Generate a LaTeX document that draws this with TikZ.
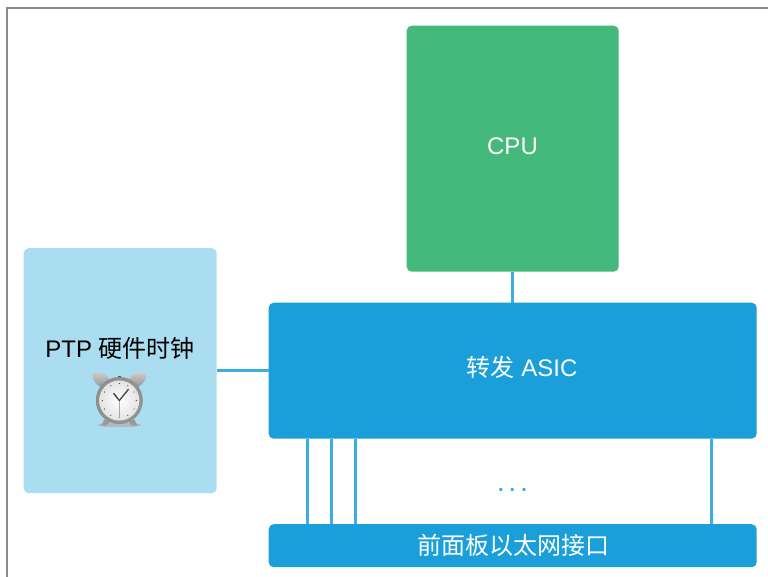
\documentclass[tikz,border=0pt]{standalone}
\usepackage{fontspec}
\setmainfont{Liberation Sans}
\newfontfamily\cjk{Noto Sans CJK SC}
\definecolor{cpugreen}{HTML}{45B97C}
\definecolor{asicblue}{HTML}{1A9FDB}
\definecolor{linkblue}{HTML}{3FADE0}
\definecolor{clockbg}{HTML}{ABDDF0}
\definecolor{framegray}{HTML}{8A8A8A}
\tikzset{
  block/.style={rounded corners=5pt,inner sep=0pt,anchor=north west,align=center},
  link/.style={draw=linkblue,line width=3pt},
  whitetext/.style={text=white},
}
\begin{document}
\begin{tikzpicture}[x=1pt,y=-1pt]
\useasboundingbox (0,0) rectangle (768,577);
\fill[white] (0,0) rectangle (768,577);
\draw[framegray,line width=2pt] (6.5,577) -- (6.5,8.5) -- (768,8.5);
% blocks
\node[block,fill=cpugreen,minimum width=212pt,minimum height=246pt,whitetext] (cpu) at (406.5,25.5) {};
\node[whitetext,font=\fontsize{24}{28}\selectfont] at (512.5,146.5) {CPU};
\node[block,fill=asicblue,minimum width=488pt,minimum height=136pt] (asic) at (268.5,302.5) {};
\node[whitetext,font=\fontsize{24}{28}\selectfont] at (522,367) {{\cjk 转发} ASIC};
\node[block,fill=clockbg,minimum width=193pt,minimum height=245pt] (ptp) at (23.5,248) {};
\node[font=\fontsize{24}{28}\selectfont] at (120,348) {PTP {\cjk 硬件时钟}};
\node[block,fill=asicblue,minimum width=488pt,minimum height=43pt] (panel) at (268.5,524) {};
\node[whitetext,font=\fontsize{24}{28}\cjk] at (513,545.5) {前面板以太网接口};
\node[text=linkblue,font=\bfseries\fontsize{20}{22}\selectfont] at (512.5,490) {.\hspace{6pt}.\hspace{6pt}.};
% links
\coordinate (c1) at (512.5,271);
\draw[link] (cpu.south -| c1) -- (asic.north -| c1);
\draw[link] (ptp.east |- 0,370) -- (asic.west |- 0,370);
\foreach \px in {307,331,355,711}{
  \draw[link] (asic.south -| \px,0) -- (panel.north -| \px,0);
}
% clock
\begin{scope}[shift={(119.3,400.5)}]
  \fill[gray!60,opacity=.8] (0,24.5) ellipse (22pt and 2.2pt);
  \fill[gray!80] (-15,19) -- (-9,21) -- (-13,25) -- (-18,25) -- cycle;
  \fill[gray!80] (15,19) -- (9,21) -- (13,25) -- (18,25) -- cycle;
  \fill[gray!70!black] (-1.5,-24.5) rectangle (1.5,-18);
  \shade[rotate around={-38:(-17.5,-20.5)},top color=gray!35,bottom color=gray!90] (-17.5,-20.5) ellipse (10.5pt and 6.5pt);
  \shade[rotate around={38:(17.5,-20.5)},top color=gray!35,bottom color=gray!90] (17.5,-20.5) ellipse (10.5pt and 6.5pt);
  \shade[inner color=gray!40,outer color=gray!90] (0,0) circle (23.5pt);
  \shade[inner color=white,outer color=gray!22] (0,0) circle (20pt);
  \foreach \a in {0,30,...,330}{
    \fill[gray!70!black] (\a:17) circle (0.7pt);
  }
  \draw[gray!60!black,line width=1.5pt,line cap=round] (0,0) -- (-5.5,-7);
  \draw[gray!60!black,line width=1.4pt,line cap=round] (0,0) -- (9,-11);
  \draw[gray!70,line width=.6pt] (0,0) -- (0,17);
\end{scope}
\end{tikzpicture}
\end{document}
